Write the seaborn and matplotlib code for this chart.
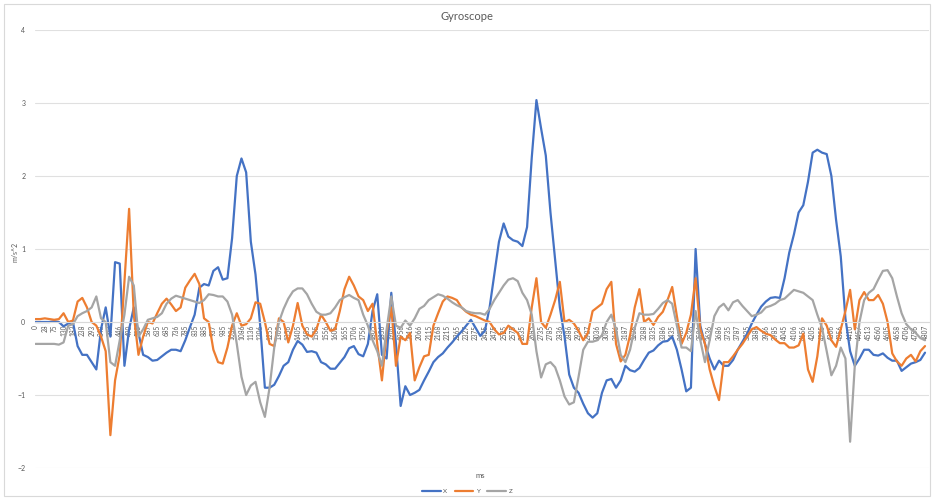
# Gyroscope trace (X / Y / Z) recreated as an Excel-style line chart
import matplotlib
matplotlib.use("Agg")
import matplotlib.pyplot as plt
from matplotlib.patches import Rectangle
import seaborn as sns
import pandas as pd

# category labels (ms), one label every second sample
ms_labels = [
    0, 28, 75, 130, 183, 238, 293, 348, 397, 446,
    490, 535, 587, 635, 685, 736, 785, 835, 885, 937,
    985, 1036, 1086, 1136, 1206, 1255, 1305, 1356, 1405, 1455,
    1505, 1556, 1605, 1655, 1706, 1756, 1805, 1856, 1906, 1956,
    2016, 2066, 2115, 2168, 2215, 2265, 2327, 2375, 2425, 2475,
    2525, 2575, 2635, 2685, 2735, 2785, 2836, 2886, 2936, 2987,
    3036, 3087, 3136, 3187, 3236, 3288, 3335, 3386, 3435, 3486,
    3536, 3586, 3636, 3686, 3735, 3787, 3835, 3886, 3936, 3985,
    4045, 4106, 4156, 4205, 4255, 4306, 4356, 4410, 4457, 4513,
    4560, 4605, 4658, 4706, 4756, 4807,
]

gyro_x = [
    0, 0, 0, 0, 0.01, 0.0, -0.06, -0.02, 0.0, -0.33,
    -0.45, -0.45, -0.55, -0.65, -0.1, 0.2, -0.2, 0.82, 0.8, -0.6,
    -0.1, 0.2, -0.15, -0.45, -0.48, -0.53, -0.52, -0.47, -0.42, -0.38,
    -0.38, -0.4, -0.25, -0.07, 0.1, 0.47, 0.52, 0.5, 0.7, 0.75,
    0.58, 0.6, 1.15, 2.0, 2.24, 2.05, 1.1, 0.65, -0.05, -0.9,
    -0.9, -0.86, -0.74, -0.6, -0.55, -0.38, -0.26, -0.31, -0.41, -0.4,
    -0.42, -0.55, -0.58, -0.64, -0.64, -0.56, -0.48, -0.36, -0.33, -0.44,
    -0.47, -0.3, 0.15, 0.38, -0.45, -0.5, 0.4, -0.3, -1.15, -0.88,
    -1.0, -0.97, -0.93, -0.8, -0.68, -0.55, -0.48, -0.43, -0.35, -0.28,
    -0.2, -0.13, -0.05, 0.03, -0.08, -0.19, -0.12, 0.2, 0.65, 1.1,
    1.35, 1.17, 1.12, 1.1, 1.04, 1.3, 2.25, 3.04, 2.65, 2.28,
    1.5, 0.85, 0.2, -0.2, -0.72, -0.9, -0.97, -1.12, -1.25, -1.31,
    -1.25, -0.97, -0.8, -0.78, -0.9, -0.8, -0.6, -0.66, -0.68, -0.63,
    -0.52, -0.42, -0.39, -0.32, -0.27, -0.26, -0.2, -0.38, -0.65, -0.95,
    -0.9, 1.0, -0.05, -0.3, -0.5, -0.65, -0.53, -0.6, -0.6, -0.52,
    -0.38, -0.27, -0.16, -0.02, 0.1, 0.21, 0.28, 0.33, 0.34, 0.33,
    0.6, 0.95, 1.2, 1.5, 1.6, 1.92, 2.32, 2.36, 2.32, 2.3,
    2.0, 1.4, 0.9, 0.05, -0.4, -0.6, -0.5, -0.38, -0.38, -0.45,
    -0.46, -0.43, -0.49, -0.53, -0.53, -0.67, -0.62, -0.57, -0.55, -0.52,
    -0.42,
]

gyro_y = [
    0.04, 0.04, 0.05, 0.04, 0.03, 0.04, 0.12, 0.0, 0.02, 0.28,
    0.33, 0.2, 0.0, -0.05, -0.2, -0.4, -1.55, -0.8, -0.45, 0.55,
    1.55, 0.1, -0.45, -0.2, 0.0, -0.02, 0.12, 0.25, 0.32, 0.24,
    0.15, 0.2, 0.47, 0.57, 0.66, 0.52, 0.05, 0.0, -0.38, -0.55,
    -0.57, -0.35, -0.05, 0.12, -0.05, -0.03, 0.05, 0.27, 0.25, 0.0,
    -0.3, -0.33, 0.05, 0.0, -0.28, -0.05, 0.26, -0.05, -0.17, -0.2,
    -0.1, 0.1, 0.0, -0.12, -0.1, 0.15, 0.45, 0.62, 0.5, 0.35,
    0.3, 0.15, 0.25, -0.3, -0.8, -0.15, 0.2, -0.6, -0.2, -0.25,
    -0.15, -0.8, -0.62, -0.47, -0.45, -0.05, 0.12, 0.28, 0.35, 0.33,
    0.3, 0.2, 0.14, 0.1, 0.08, 0.05, 0.02, 0.0, -0.1, -0.17,
    -0.15, -0.05, -0.1, -0.15, -0.3, -0.3, 0.2, 0.6, 0.0, -0.08,
    0.1, 0.3, 0.55, 0.0, 0.03, -0.02, -0.12, -0.25, -0.15, 0.15,
    0.2, 0.25, 0.45, 0.55, -0.3, -0.54, -0.45, -0.18, 0.2, 0.45,
    0.0, 0.05, -0.04, 0.07, 0.14, 0.3, 0.48, 0.08, -0.3, -0.15,
    0.1, 0.6, -0.1, -0.3, -0.65, -0.88, -1.07, -0.55, -0.55, -0.47,
    -0.38, -0.3, -0.2, -0.1, -0.07, -0.12, -0.16, -0.18, -0.24, -0.29,
    -0.29, -0.35, -0.35, -0.32, -0.16, -0.65, -0.82, -0.47, 0.05, -0.05,
    -0.25, -0.34, -0.1, 0.15, 0.44, -0.1, 0.3, 0.41, 0.3, 0.3,
    0.37, 0.25, 0.0, -0.43, -0.54, -0.6, -0.5, -0.45, -0.54, -0.4,
    -0.33,
]

gyro_z = [
    -0.3, -0.3, -0.3, -0.3, -0.3, -0.31, -0.28, -0.05, -0.03, 0.08,
    0.12, 0.15, 0.2, 0.35, 0.05, 0.0, -0.55, -0.6, -0.25, 0.1,
    0.62, 0.5, -0.2, -0.1, 0.03, 0.05, 0.07, 0.12, 0.25, 0.32,
    0.36, 0.34, 0.32, 0.3, 0.28, 0.26, 0.3, 0.38, 0.37, 0.35,
    0.35, 0.28, 0.1, -0.3, -0.75, -1.0, -0.87, -0.82, -1.1, -1.3,
    -0.9, -0.35, 0.0, 0.18, 0.32, 0.42, 0.46, 0.46, 0.38, 0.25,
    0.14, 0.1, 0.1, 0.12, 0.2, 0.3, 0.34, 0.37, 0.33, 0.3,
    0.1, -0.05, -0.25, -0.4, -0.6, -0.1, 0.35, -0.05, -0.08, 0.02,
    -0.05, 0.05, 0.18, 0.22, 0.3, 0.34, 0.38, 0.36, 0.32, 0.27,
    0.23, 0.2, 0.15, 0.13, 0.12, 0.12, 0.1, 0.18, 0.3, 0.4,
    0.5, 0.58, 0.6, 0.56, 0.4, 0.3, 0.1, -0.4, -0.76, -0.58,
    -0.55, -0.62, -0.8, -1.02, -1.13, -1.1, -0.75, -0.38, -0.27, -0.27,
    -0.25, -0.18, 0.0, 0.1, -0.1, -0.45, -0.55, -0.38, -0.08, 0.12,
    0.1, 0.1, 0.11, 0.18, 0.26, 0.3, 0.25, -0.05, -0.35, -0.35,
    -0.4, 0.15, -0.25, -0.55, -0.25, 0.08, 0.2, 0.25, 0.16, 0.27,
    0.3, 0.22, 0.15, 0.08, 0.1, 0.13, 0.2, 0.22, 0.25, 0.3,
    0.32, 0.38, 0.44, 0.42, 0.4, 0.35, 0.3, 0.1, -0.08, -0.4,
    -0.73, -0.6, -0.35, -0.5, -1.64, -0.6, 0.0, 0.3, 0.4, 0.45,
    0.58, 0.7, 0.71, 0.6, 0.35, 0.12, -0.03, -0.1, -0.15, -0.22,
    -0.25,
]

series_names = ["X", "Y", "Z"]
colors = ["#4472C4", "#ED7D31", "#A5A5A5"]

n = len(gyro_x)
frames = []
for name, vals in zip(series_names, [gyro_x, gyro_y, gyro_z]):
    frames.append(pd.DataFrame({"idx": range(n), "value": vals, "axis": name}))
df = pd.concat(frames, ignore_index=True)

sns.set_style("white")
plt.rcParams["font.family"] = ["Lato", "DejaVu Sans"]

W, H = 934, 499
fig = plt.figure(figsize=(W / 100, H / 100), dpi=100)
ax = fig.add_axes([35 / W, 1 - 468 / H, (929 - 35) / W, (468 - 30) / H])

sns.lineplot(data=df, x="idx", y="value", hue="axis", palette=colors,
             linewidth=1.6, estimator=None, sort=False, ax=ax)

# axis line crosses at 0 (set before tick labels: it resets the ticks)
for side in ["top", "right", "left"]:
    ax.spines[side].set_visible(False)
ax.spines["bottom"].set_position(("data", 0))
ax.spines["bottom"].set_color("#d9d9d9")
ax.spines["bottom"].set_linewidth(0.8)

ax.set_xlim(-0.1, n - 1 + 0.85)
ax.set_ylim(-2, 4)
ax.set_yticks(range(-2, 5))
ax.set_xticks(range(0, n, 2))
ax.set_xticklabels([str(v) for v in ms_labels])
ax.tick_params(axis="x", length=0, pad=2, labelsize=4.7,
               labelcolor="#595959", labelrotation=90)
ax.tick_params(axis="y", length=0, pad=7, labelsize=5, labelcolor="#595959")
ax.set_xlabel("")
ax.set_ylabel("")

ax.yaxis.grid(True, color="#e0e0e0", linewidth=0.8)
ax.xaxis.grid(False)
ax.set_axisbelow(True)

handles, labels = ax.get_legend_handles_labels()
ax.get_legend().remove()
fig.legend(handles, labels, loc="center", bbox_to_anchor=(0.5, 1 - 491 / H),
           ncol=3, frameon=False, fontsize=4.5, handlelength=3,
           columnspacing=1.2, handletextpad=0.4, labelcolor="#595959")

fig.text(0.5, 1 - 16 / H, "Gyroscope", ha="center", va="center",
         fontsize=8, color="#595959")
fig.text(480 / W, 1 - 475 / H, "ms", ha="center", va="center",
         fontsize=5.5, color="#595959")
fig.text(15 / W, 1 - 252 / H, "m/s^2", ha="center", va="center",
         rotation=90, fontsize=5, color="#595959")

fig.patches.append(Rectangle((4 / W, 3 / H), (W - 8) / W, (H - 7) / H,
                             transform=fig.transFigure, fill=False,
                             edgecolor="#d9d9d9", linewidth=0.8))

fig.savefig("out.png", dpi=100)
